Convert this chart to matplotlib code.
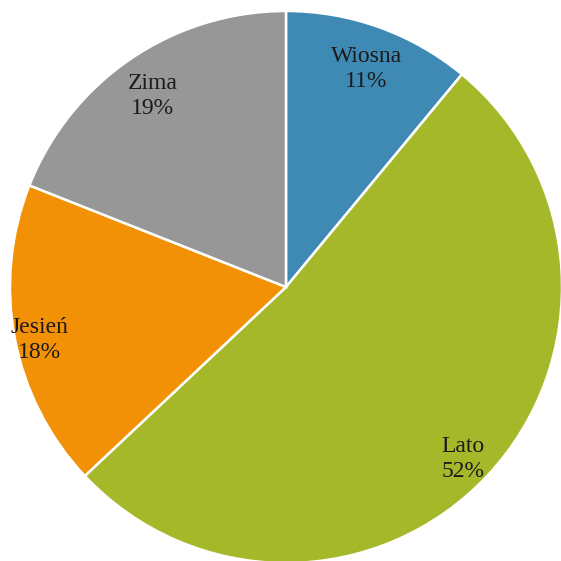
import matplotlib
matplotlib.use("Agg")
import matplotlib.pyplot as plt
import numpy as np

# season shares (%)
seasons = ["Wiosna", "Lato", "Jesień", "Zima"]
shares = [11, 52, 18, 19]
colors = ["#3F8AB4", "#A5B829", "#F39106", "#979797"]
label_dist = [0.86, 0.88, 0.91, 0.86]

plt.rcParams["font.family"] = ["Liberation Serif", "DejaVu Serif"]

fig = plt.figure(figsize=(5.61, 5.61), dpi=100)
ax = fig.add_axes([0, 0, 1, 1])

wedges, texts = ax.pie(
    shares,
    colors=colors,
    startangle=90,
    counterclock=False,
    wedgeprops=dict(edgecolor="white", linewidth=1.8),
)

# labels inside wedges, name above percent
total = sum(shares)
for name, val, w, d in zip(seasons, shares, wedges, label_dist):
    mid = np.deg2rad((w.theta1 + w.theta2) / 2)
    ax.text(d * np.cos(mid), d * np.sin(mid) - 0.02,
            f"{name}\n{round(100 * val / total)}%",
            ha="center", va="center", fontsize=17, color="#1a1a1a",
            linespacing=1.25)

ax.set_aspect("equal")
ax.set_xlim(-286 / 276, (561 - 286) / 276)
ax.set_ylim(-(561 - 287) / 276, 287 / 276)
ax.axis("off")

fig.savefig("out.png", dpi=100)
